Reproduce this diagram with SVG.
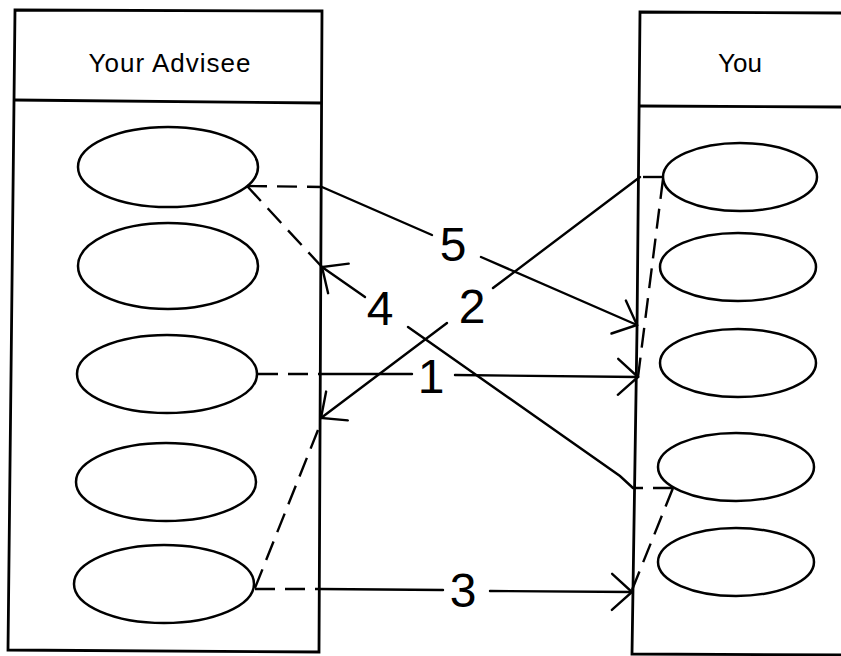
<svg xmlns="http://www.w3.org/2000/svg" width="841" height="656" viewBox="0 0 841 656">
<style>
.box{fill:none;stroke:#000;stroke-width:2.8;stroke-linejoin:miter}
.ell{fill:#fff;stroke:#000;stroke-width:2.5}
.hdr{font-family:"Liberation Sans",Arial,sans-serif;font-size:26px;fill:#000}
.num{font-family:"Liberation Sans",Arial,sans-serif;font-size:48px;fill:#000;text-anchor:middle}
.sol{fill:none;stroke:#000;stroke-width:2.4;stroke-linecap:round}
.dsh{fill:none;stroke:#000;stroke-width:2.4;stroke-dasharray:20 10}
</style>
<defs>
<marker id="arr" markerUnits="userSpaceOnUse" viewBox="-24 -22 28 44" refX="0" refY="0" markerWidth="28" markerHeight="44" orient="auto" overflow="visible">
<path d="M -20 -18 L 0 0 L -20 18" fill="none" stroke="#000" stroke-width="2.4" stroke-linecap="round"/>
</marker>
</defs>
<rect width="841" height="656" fill="#fff"/>

<g id="advisee-column">
<polygon class="box" points="15,10 322,11 319,652 8,650"/>
<line class="box" x1="14" y1="100" x2="322" y2="103"/>
<text class="hdr" x="170" y="72" text-anchor="middle" letter-spacing="1">Your Advisee</text>
</g>
<g id="you-column">
<polyline class="box" points="845,13 640,12 637,330 632,654 845,655"/>
<line class="box" x1="640" y1="106" x2="845" y2="107"/>
<text class="hdr" x="740" y="72" text-anchor="middle">You</text>
</g>

<g id="advisee-1"><ellipse class="ell" cx="168" cy="167" rx="90" ry="40"/></g>
<g id="advisee-2"><ellipse class="ell" cx="168" cy="266" rx="90" ry="43"/></g>
<g id="advisee-3"><ellipse class="ell" cx="167" cy="374" rx="90" ry="39"/></g>
<g id="advisee-4"><ellipse class="ell" cx="166" cy="482" rx="90" ry="39"/></g>
<g id="advisee-5"><ellipse class="ell" cx="164" cy="584" rx="90" ry="39"/></g>

<g id="you-1"><ellipse class="ell" cx="740" cy="177" rx="77" ry="34"/></g>
<g id="you-2"><ellipse class="ell" cx="738" cy="267" rx="78" ry="34"/></g>
<g id="you-3"><ellipse class="ell" cx="738" cy="363" rx="78" ry="34"/></g>
<g id="you-4"><ellipse class="ell" cx="736" cy="467" rx="78" ry="34"/></g>
<g id="you-5"><ellipse class="ell" cx="736" cy="562" rx="78" ry="34"/></g>

<g id="connectors">
<!-- 1 -->
<line class="dsh" x1="258" y1="374" x2="320" y2="374"/>
<line class="sol" x1="320" y1="374" x2="412" y2="374"/>
<line class="sol" x1="455" y1="375" x2="638" y2="377" marker-end="url(#arr)"/>
<line class="dsh" x1="663" y1="179" x2="638" y2="377"/>
<text class="num" x="431" y="393" font-size="44">1</text>
<!-- 2 -->
<line class="dsh" x1="663" y1="177" x2="640" y2="177"/>
<line class="sol" x1="640" y1="177" x2="493" y2="288"/>
<line class="sol" x1="447" y1="323" x2="321" y2="418" marker-end="url(#arr)"/>
<line class="dsh" x1="318" y1="430" x2="255" y2="588"/>
<text class="num" x="472" y="323">2</text>
<!-- 3 -->
<line class="dsh" x1="255" y1="589" x2="320" y2="589"/>
<line class="sol" x1="320" y1="589" x2="443" y2="590"/>
<line class="sol" x1="490" y1="591" x2="632" y2="592" marker-end="url(#arr)"/>
<line class="dsh" x1="632" y1="590" x2="673" y2="488"/>
<text class="num" x="463" y="607" font-size="50">3</text>
<!-- 4 -->
<line class="dsh" x1="673" y1="488" x2="633" y2="488"/>
<polyline class="sol" points="633,488 620,476 408,327"/>
<line class="sol" x1="365" y1="297" x2="322" y2="267" marker-end="url(#arr)"/>
<line class="dsh" x1="322" y1="267" x2="247" y2="186"/>
<text class="num" x="380" y="325">4</text>
<!-- 5 -->
<line class="dsh" x1="247" y1="186" x2="322" y2="187"/>
<line class="sol" x1="322" y1="187" x2="432" y2="235"/>
<line class="sol" x1="481" y1="257" x2="637" y2="325" marker-end="url(#arr)"/>
<text class="num" x="453" y="261">5</text>
</g>
</svg>
